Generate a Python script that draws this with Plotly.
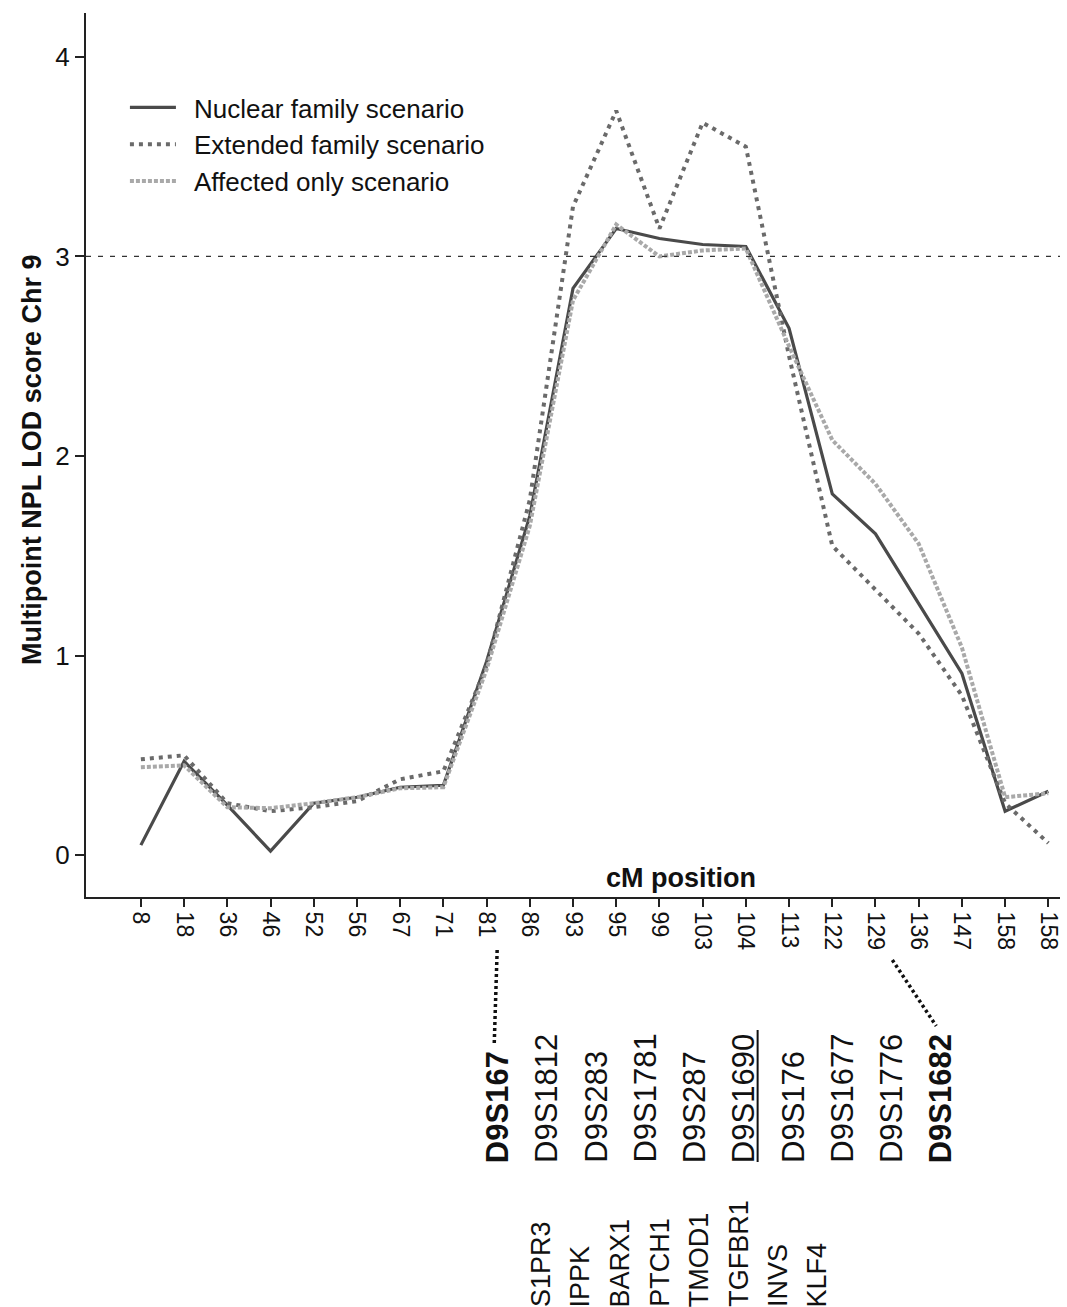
import plotly.graph_objects as go

# ---- data ----
cm_labels = ["8", "18", "36", "46", "52", "56", "67", "71", "81", "86", "93", "95",
             "99", "103", "104", "113", "122", "129", "136", "147", "158", "158"]
nuclear = [0.05, 0.47, 0.25, 0.02, 0.26, 0.29, 0.34, 0.35, 0.97, 1.70, 2.84, 3.14,
           3.09, 3.06, 3.05, 2.64, 1.81, 1.61, 1.26, 0.91, 0.22, 0.32]
extended = [0.48, 0.50, 0.26, 0.22, 0.24, 0.27, 0.38, 0.42, 0.95, 1.78, 3.25, 3.73,
            3.14, 3.67, 3.55, 2.50, 1.55, 1.33, 1.11, 0.80, 0.26, 0.06]
affected = [0.44, 0.45, 0.24, 0.235, 0.26, 0.29, 0.335, 0.34, 0.93, 1.65, 2.78, 3.16,
            3.00, 3.03, 3.04, 2.55, 2.08, 1.86, 1.56, 1.04, 0.29, 0.31]
series_names = ["Nuclear family scenario", "Extended family scenario", "Affected only scenario"]
markers = ["D9S167", "D9S1812", "D9S283", "D9S1781", "D9S287", "D9S1690",
           "D9S176", "D9S1677", "D9S1776", "D9S1682"]
bold_markers = ["D9S167", "D9S1682"]
underlined_marker = "D9S1690"
genes = ["S1PR3", "IPPK", "BARX1", "PTCH1", "TMOD1", "TGFBR1", "INVS", "KLF4"]
threshold = 3
y_ticks = [0, 1, 2, 3, 4]

FONT = "Liberation Sans, Arial, sans-serif"
W, H = 1067, 1307
ML, MR, MT, MB = 86, 5, 13, 410
PW, PH = W - ML - MR, H - MT - MB


def px(x):
    return (x - ML) / PW


def py(y):
    return (H - MB - y) / PH


xi = list(range(len(cm_labels)))
GAP = "\u2002"

fig = go.Figure()
fig.add_trace(go.Scatter(x=xi, y=nuclear, mode="lines", name=GAP + series_names[0],
                         line=dict(color="#4a4a4a", width=3.2)))
fig.add_trace(go.Scatter(x=xi, y=extended, mode="lines", name=GAP + series_names[1],
                         line=dict(color="#6a6a6a", width=4, dash="4px,5px")))
fig.add_trace(go.Scatter(x=xi, y=affected, mode="lines", name=GAP + series_names[2],
                         line=dict(color="#a9a9a9", width=4, dash="4px,2px")))

shapes = [
    dict(type="line", xref="paper", yref="y", x0=0, x1=1, y0=threshold, y1=threshold,
         line=dict(color="#333333", width=1.3, dash="5px,7px")),
    # connector dotted lines
    dict(type="line", xref="paper", yref="paper", x0=px(498), x1=px(495), y0=py(950), y1=py(1046),
         line=dict(color="#111111", width=3.5, dash="3px,3px")),
    dict(type="line", xref="paper", yref="paper", x0=px(894), x1=px(938), y0=py(960), y1=py(1026),
         line=dict(color="#111111", width=3.5, dash="3px,3px")),
    # underline of D9S1690
    dict(type="line", xref="paper", yref="paper", x0=px(759), x1=px(759), y0=py(1030), y1=py(1162),
         line=dict(color="#111111", width=2)),
]

annotations = [
    dict(text="<b>cM position</b>", xref="paper", yref="paper", x=px(682), y=py(878),
         showarrow=False, font=dict(family=FONT, size=27, color="#111111"),
         xanchor="center", yanchor="middle"),
    dict(text="<b>Multipoint NPL LOD score Chr 9</b>", xref="paper", yref="paper",
         x=px(32), y=py(460), showarrow=False, textangle=-90,
         font=dict(family=FONT, size=27, color="#111111"), xanchor="center", yanchor="middle"),
]
for k, m in enumerate(markers):
    t = f"<b>{m}</b>" if m in bold_markers else m
    annotations.append(dict(text=t, xref="paper", yref="paper", x=px(498 + 49.4 * k), y=py(1165),
                            showarrow=False, textangle=-90, xanchor="center", yanchor="bottom",
                            font=dict(family=FONT, size=31, color="#111111")))
for k, g in enumerate(genes):
    annotations.append(dict(text=g, xref="paper", yref="paper", x=px(542 + 39.5 * k), y=py(1309),
                            showarrow=False, textangle=-90, xanchor="center", yanchor="bottom",
                            font=dict(family=FONT, size=27, color="#111111")))

fig.update_layout(
    width=W, height=H,
    margin=dict(l=ML, r=MR, t=MT, b=MB),
    paper_bgcolor="white", plot_bgcolor="white",
    font=dict(family=FONT, color="#111111"),
    showlegend=True,
    legend=dict(x=px(125), y=py(84), xanchor="left", yanchor="top",
                font=dict(family=FONT, size=26, color="#111111"),
                bgcolor="rgba(0,0,0,0)", itemwidth=46, tracegroupgap=0),
    xaxis=dict(range=[-1.27, 21.27], tickmode="array", tickvals=xi, ticktext=cm_labels,
               tickangle=90, showgrid=False, zeroline=False, showline=True,
               linecolor="#222222", linewidth=2, ticks="outside", ticklen=8, tickwidth=1.5,
               tickcolor="#222222", tickfont=dict(family=FONT, size=23, color="#111111")),
    yaxis=dict(range=[-0.21, 4.22], tickmode="array", tickvals=y_ticks,
               showgrid=False, zeroline=False, showline=True,
               linecolor="#222222", linewidth=2, ticks="outside", ticklen=9, tickwidth=1.5,
               tickcolor="#222222", tickfont=dict(family=FONT, size=26, color="#111111")),
    shapes=shapes,
    annotations=annotations,
)

fig.write_html("out.html", config={"displayModeBar": False},
               post_script="document.body.style.margin='0px';")
